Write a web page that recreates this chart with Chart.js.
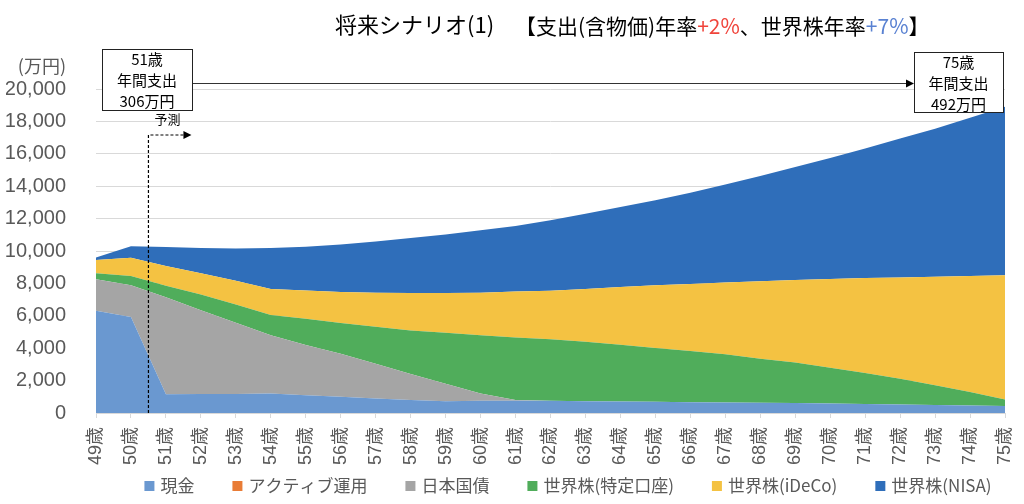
<!DOCTYPE html>
<html>
<head>
<meta charset="utf-8">
<script src="https://cdn.jsdelivr.net/npm/chart.js@4.4.1/dist/chart.umd.min.js"></script>
<style>
  html, body { margin: 0; padding: 0; background: #fff; }
  #wrap { width: 1024px; height: 504px; }
</style>
</head>
<body>
<div id="wrap"><canvas id="chart"></canvas></div>
<script>
// 年齢 (x軸)
const ages = [
  "49歳", "50歳", "51歳", "52歳", "53歳", "54歳", "55歳", "56歳", "57歳",
  "58歳", "59歳", "60歳", "61歳", "62歳", "63歳", "64歳", "65歳", "66歳",
  "67歳", "68歳", "69歳", "70歳", "71歳", "72歳", "73歳", "74歳", "75歳",
];

// 資産残高 (万円) - グラフから読み取り
const cash = [
  6310, 5920, 1150, 1170, 1180, 1200, 1100, 1000, 900, 800, 720, 760, 760,
  750, 730, 710, 690, 670, 650, 630, 610, 590, 560, 520, 490, 460, 430,
];
const active = [
  0, 0, 0, 0, 0, 0, 0, 0, 0, 0, 0, 0, 0, 0, 0, 0, 0, 0, 0, 0, 0, 0, 0, 0, 0, 0, 0,
];
const jgb = [
  1950, 1960, 6000, 5180, 4390, 3600, 3100, 2650, 2140, 1600, 1080, 440, 40,
  0, 0, 0, 0, 0, 0, 0, 0, 0, 0, 0, 0, 0, 0,
];
const stockTokutei = [
  360, 570, 700, 960, 1130, 1250, 1620, 1900, 2280, 2700, 3150, 3600, 3860,
  3800, 3670, 3510, 3330, 3160, 2970, 2720, 2500, 2210, 1910, 1600, 1220, 830, 410,
];
const stockIdeco = [
  820, 1130, 1230, 1320, 1460, 1610, 1740, 1920, 2100, 2300, 2450, 2630, 2840,
  3000, 3260, 3560, 3860, 4130, 4430, 4780, 5100, 5470, 5860, 6250, 6700, 7170, 7660,
];
const stockNisa = [
  160, 720, 1160, 1550, 1990, 2520, 2710, 2930, 3160, 3400, 3620, 3850, 4050,
  4350, 4640, 4940, 5250, 5640, 6050, 6500, 6970, 7470, 7990, 8580, 9140, 9760, 10400,
];

const yTicks = [0, 2000, 4000, 6000, 8000, 10000, 12000, 14000, 16000, 18000, 20000];

const FONT = "'Liberation Sans', 'Noto Sans CJK JP', sans-serif";
const JP_FONT = "'Noto Sans CJK JP', 'Noto Sans', sans-serif";
const GREY_TEXT = "#595959";

const series = [
  { label: "現金", data: cash, color: "#6A98D0" },
  { label: "アクティブ運用", data: active, color: "#E97C36" },
  { label: "日本国債", data: jgb, color: "#A5A5A5" },
  { label: "世界株(特定口座)", data: stockTokutei, color: "#50AD5B" },
  { label: "世界株(iDeCo)", data: stockIdeco, color: "#F4C242" },
  { label: "世界株(NISA)", data: stockNisa, color: "#2F6EBA" },
];

const arrowHead = (ctx, x, y) => {
  ctx.beginPath();
  ctx.moveTo(x, y);
  ctx.lineTo(x - 8, y - 4);
  ctx.lineTo(x - 8, y + 4);
  ctx.closePath();
  ctx.fill();
};

const drawBox = (ctx, x, y, w, h, lines) => {
  ctx.fillStyle = "#fff";
  ctx.fillRect(x, y, w, h);
  ctx.strokeStyle = "#222";
  ctx.lineWidth = 1;
  ctx.strokeRect(x + 0.5, y + 0.5, w, h);
  ctx.fillStyle = "#000";
  ctx.font = "15px " + JP_FONT;
  ctx.textAlign = "center";
  ctx.textBaseline = "middle";
  lines.forEach((t, i) => ctx.fillText(t, x + w / 2, y + 10 + i * 21));
};

// 凡例 (下部)
const bottomLegend = {
  id: "bottomLegend",
  afterDraw(chart) {
    const { ctx } = chart;
    const items = chart.data.datasets;
    const gap = 38, box = 10, boxGap = 6, cy = 486;
    ctx.save();
    ctx.font = "17px " + JP_FONT;
    ctx.textBaseline = "middle";
    ctx.textAlign = "left";
    const widths = items.map((d) => ctx.measureText(d.label).width);
    const total =
      widths.reduce((a, w) => a + w + box + boxGap, 0) + gap * (items.length - 1);
    let x = 568 - total / 2;
    items.forEach((d, i) => {
      ctx.fillStyle = d.backgroundColor;
      ctx.fillRect(x, cy - box / 2, box, box);
      ctx.fillStyle = GREY_TEXT;
      ctx.fillText(d.label, x + box + boxGap, cy);
      x += box + boxGap + widths[i] + gap;
    });
    ctx.restore();
  },
};

const annotations = {
  id: "annotations",
  afterDraw(chart) {
    const { ctx, chartArea, scales } = chart;
    ctx.save();

    // タイトル
    ctx.textBaseline = "middle";
    ctx.textAlign = "left";
    ctx.fillStyle = "#000";
    ctx.font = "22px " + JP_FONT;
    ctx.fillText("将来シナリオ(1)", 335, 25);

    const parts = [
      ["【支出(含物価)年率", "#000"],
      ["+2%", "#F0433A"],
      ["、世界株年率", "#000"],
      ["+7%", "#5A82D2"],
      ["】", "#000"],
    ];
    ctx.font = "21px " + JP_FONT;
    let px = 515;
    parts.forEach(([t, c]) => {
      ctx.fillStyle = c;
      ctx.fillText(t, px, 26);
      px += ctx.measureText(t).width;
    });

    // 単位
    ctx.fillStyle = GREY_TEXT;
    ctx.font = "18px " + JP_FONT;
    ctx.textAlign = "right";
    ctx.fillText("(万円)", 66, 66);

    // 予測ライン
    const fx = scales.x.getPixelForValue(1.5);
    ctx.strokeStyle = "#000";
    ctx.fillStyle = "#000";
    ctx.lineWidth = 1.2;
    ctx.setLineDash([3, 2]);
    ctx.beginPath();
    ctx.moveTo(fx, chartArea.bottom);
    ctx.lineTo(fx, 135);
    ctx.lineTo(fx + 36, 135);
    ctx.stroke();
    ctx.setLineDash([]);
    arrowHead(ctx, fx + 43, 135);
    ctx.font = "13px " + JP_FONT;
    ctx.textAlign = "center";
    ctx.fillText("予測", fx + 19, 119);

    // 支出の矢印
    const b1x = chartArea.left + 6, b1w = 90;
    const b2w = 89, b2x = chartArea.right - 2 - b2w;
    ctx.strokeStyle = "#333";
    ctx.lineWidth = 1;
    ctx.beginPath();
    ctx.moveTo(b1x + b1w, 83.5);
    ctx.lineTo(b2x - 6, 83.5);
    ctx.stroke();
    ctx.fillStyle = "#000";
    arrowHead(ctx, b2x, 83.5);

    drawBox(ctx, b1x, 49, b1w, 61, ["51歳", "年間支出", "306万円"]);
    drawBox(ctx, b2x, 52, b2w, 60, ["75歳", "年間支出", "492万円"]);

    ctx.restore();
  },
};

new Chart(document.getElementById("chart"), {
  type: "line",
  data: {
    labels: ages,
    datasets: series.map((s, i) => ({
      label: s.label,
      data: s.data,
      backgroundColor: s.color,
      borderColor: s.color,
      borderWidth: 0,
      pointRadius: 0,
      tension: 0,
      fill: i === 0 ? "origin" : "-1",
    })),
  },
  options: {
    responsive: true,
    maintainAspectRatio: false,
    animation: false,
    locale: "en-US",
    events: [],
    layout: { padding: { top: 89, left: 6, right: 19, bottom: 39 } },
    plugins: {
      title: { display: false },
      tooltip: { enabled: false },
      legend: { display: false },
    },
    scales: {
      x: {
        offset: false,
        border: { color: "#D9D9D9" },
        grid: { drawOnChartArea: false, drawTicks: true, tickLength: 5, color: "#D9D9D9" },
        ticks: {
          color: GREY_TEXT,
          font: { family: FONT, size: 18 },
          minRotation: 90,
          maxRotation: 90,
          autoSkip: false,
          padding: 9,
        },
        afterFit: (axis) => {
          axis.height = 52;
          axis.paddingLeft = 0;
          axis.paddingRight = 0;
        },
      },
      y: {
        stacked: true,
        min: 0,
        max: 20000,
        afterBuildTicks: (axis) => {
          axis.ticks = yTicks.map((v) => ({ value: v }));
        },
        afterFit: (axis) => {
          axis.width = 90;
        },
        border: { display: false },
        grid: { color: "#D9D9D9", drawTicks: false },
        ticks: {
          color: GREY_TEXT,
          font: { family: FONT, size: 20 },
          padding: 30,
        },
      },
    },
  },
  plugins: [annotations, bottomLegend],
});
</script>
</body>
</html>
